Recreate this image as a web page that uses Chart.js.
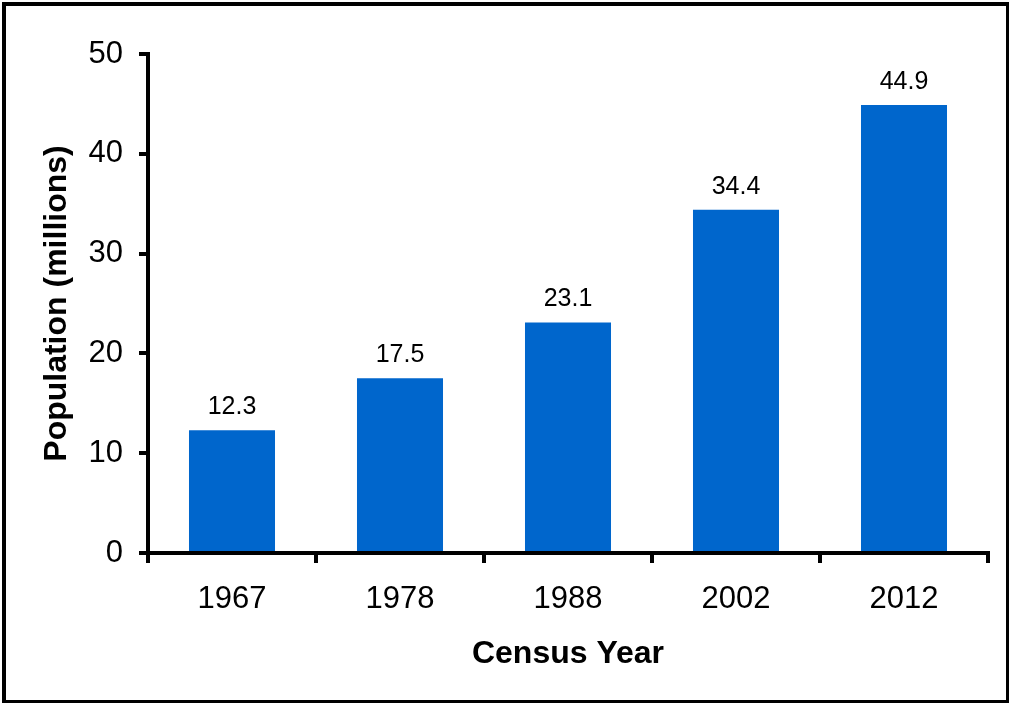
<!DOCTYPE html>
<html>
<head>
<meta charset="utf-8">
<script src="https://cdn.jsdelivr.net/npm/chart.js@4"></script>
<style>
    html, body { margin: 0; padding: 0; background: #fff; }
    #wrap { position: absolute; left: 0; top: 0; width: 1011px; height: 707px; }
</style>
</head>
<body>
<div id="wrap"><canvas id="chart" width="1011" height="707"></canvas></div>
<script>
// ==================== Data ====================
const years = ['1967', '1978', '1988', '2002', '2012'];
const population = [12.3, 17.5, 23.1, 34.4, 44.9];
const yTicks = [0, 10, 20, 30, 40, 50];

const FONT = "Arial, 'Liberation Sans', sans-serif";

// frame around the whole picture
const framePlugin = {
    id: 'frame',
    afterDraw(chart) {
        const ctx = chart.ctx;
        ctx.save();
        ctx.fillStyle = '#000';
        ctx.fillRect(2, 2, 1007, 4);     // top
        ctx.fillRect(2, 2, 4, 701);      // left
        ctx.fillRect(1006, 2, 3, 701);   // right
        ctx.fillRect(2, 700, 1007, 3);   // bottom
        ctx.restore();
    }
};

// value labels above the bars
const valueLabels = {
    id: 'valueLabels',
    afterDatasetsDraw(chart) {
        const ctx = chart.ctx;
        const meta = chart.getDatasetMeta(0);
        ctx.save();
        ctx.font = `25px ${FONT}`;
        ctx.fillStyle = '#000';
        ctx.textAlign = 'center';
        ctx.textBaseline = 'alphabetic';
        meta.data.forEach((bar, i) => {
            ctx.fillText(population[i].toFixed(1), bar.x, bar.y - 16);
        });
        ctx.restore();
    }
};

new Chart(document.getElementById('chart').getContext('2d'), {
    type: 'bar',
    data: {
        labels: years,
        datasets: [{
            data: population,
            backgroundColor: '#0066CC',
            borderWidth: 0,
            categoryPercentage: 1,
            barPercentage: 0.512
        }]
    },
    options: {
        responsive: false,
        animation: false,
        layout: { padding: { left: 0, top: 54, right: 23, bottom: 0 } },
        plugins: {
            legend: { display: false },
            tooltip: { enabled: false }
        },
        scales: {
            x: {
                offset: true,
                grid: {
                    offset: true,
                    drawOnChartArea: false,
                    drawTicks: true,
                    tickLength: 10,
                    color: '#000',
                    lineWidth: 4
                },
                border: { display: true, color: '#000', width: 4 },
                ticks: { color: '#000', font: { family: FONT, size: 31 }, padding: 18, maxRotation: 0 },
                title: {
                    display: true,
                    text: 'Census Year',
                    color: '#000',
                    font: { family: FONT, size: 32, weight: 'bold' },
                    padding: { top: 0, bottom: 34 }
                },
                afterFit(scale) { scale.height = 154; }
            },
            y: {
                min: 0,
                max: 50,
                afterBuildTicks(scale) { scale.ticks = yTicks.map(v => ({ value: v })); },
                grid: {
                    drawOnChartArea: false,
                    drawTicks: true,
                    tickLength: 9,
                    color: '#000',
                    lineWidth: 4
                },
                border: { display: true, color: '#000', width: 4 },
                ticks: { color: '#000', font: { family: FONT, size: 31 }, padding: 16 },
                title: {
                    display: true,
                    text: 'Population (millions)',
                    color: '#000',
                    font: { family: FONT, size: 32, weight: 'bold' },
                    padding: { top: 38, bottom: 0 }
                },
                afterFit(scale) { scale.width = 148; }
            }
        }
    },
    plugins: [valueLabels, framePlugin]
});
</script>
</body>
</html>
